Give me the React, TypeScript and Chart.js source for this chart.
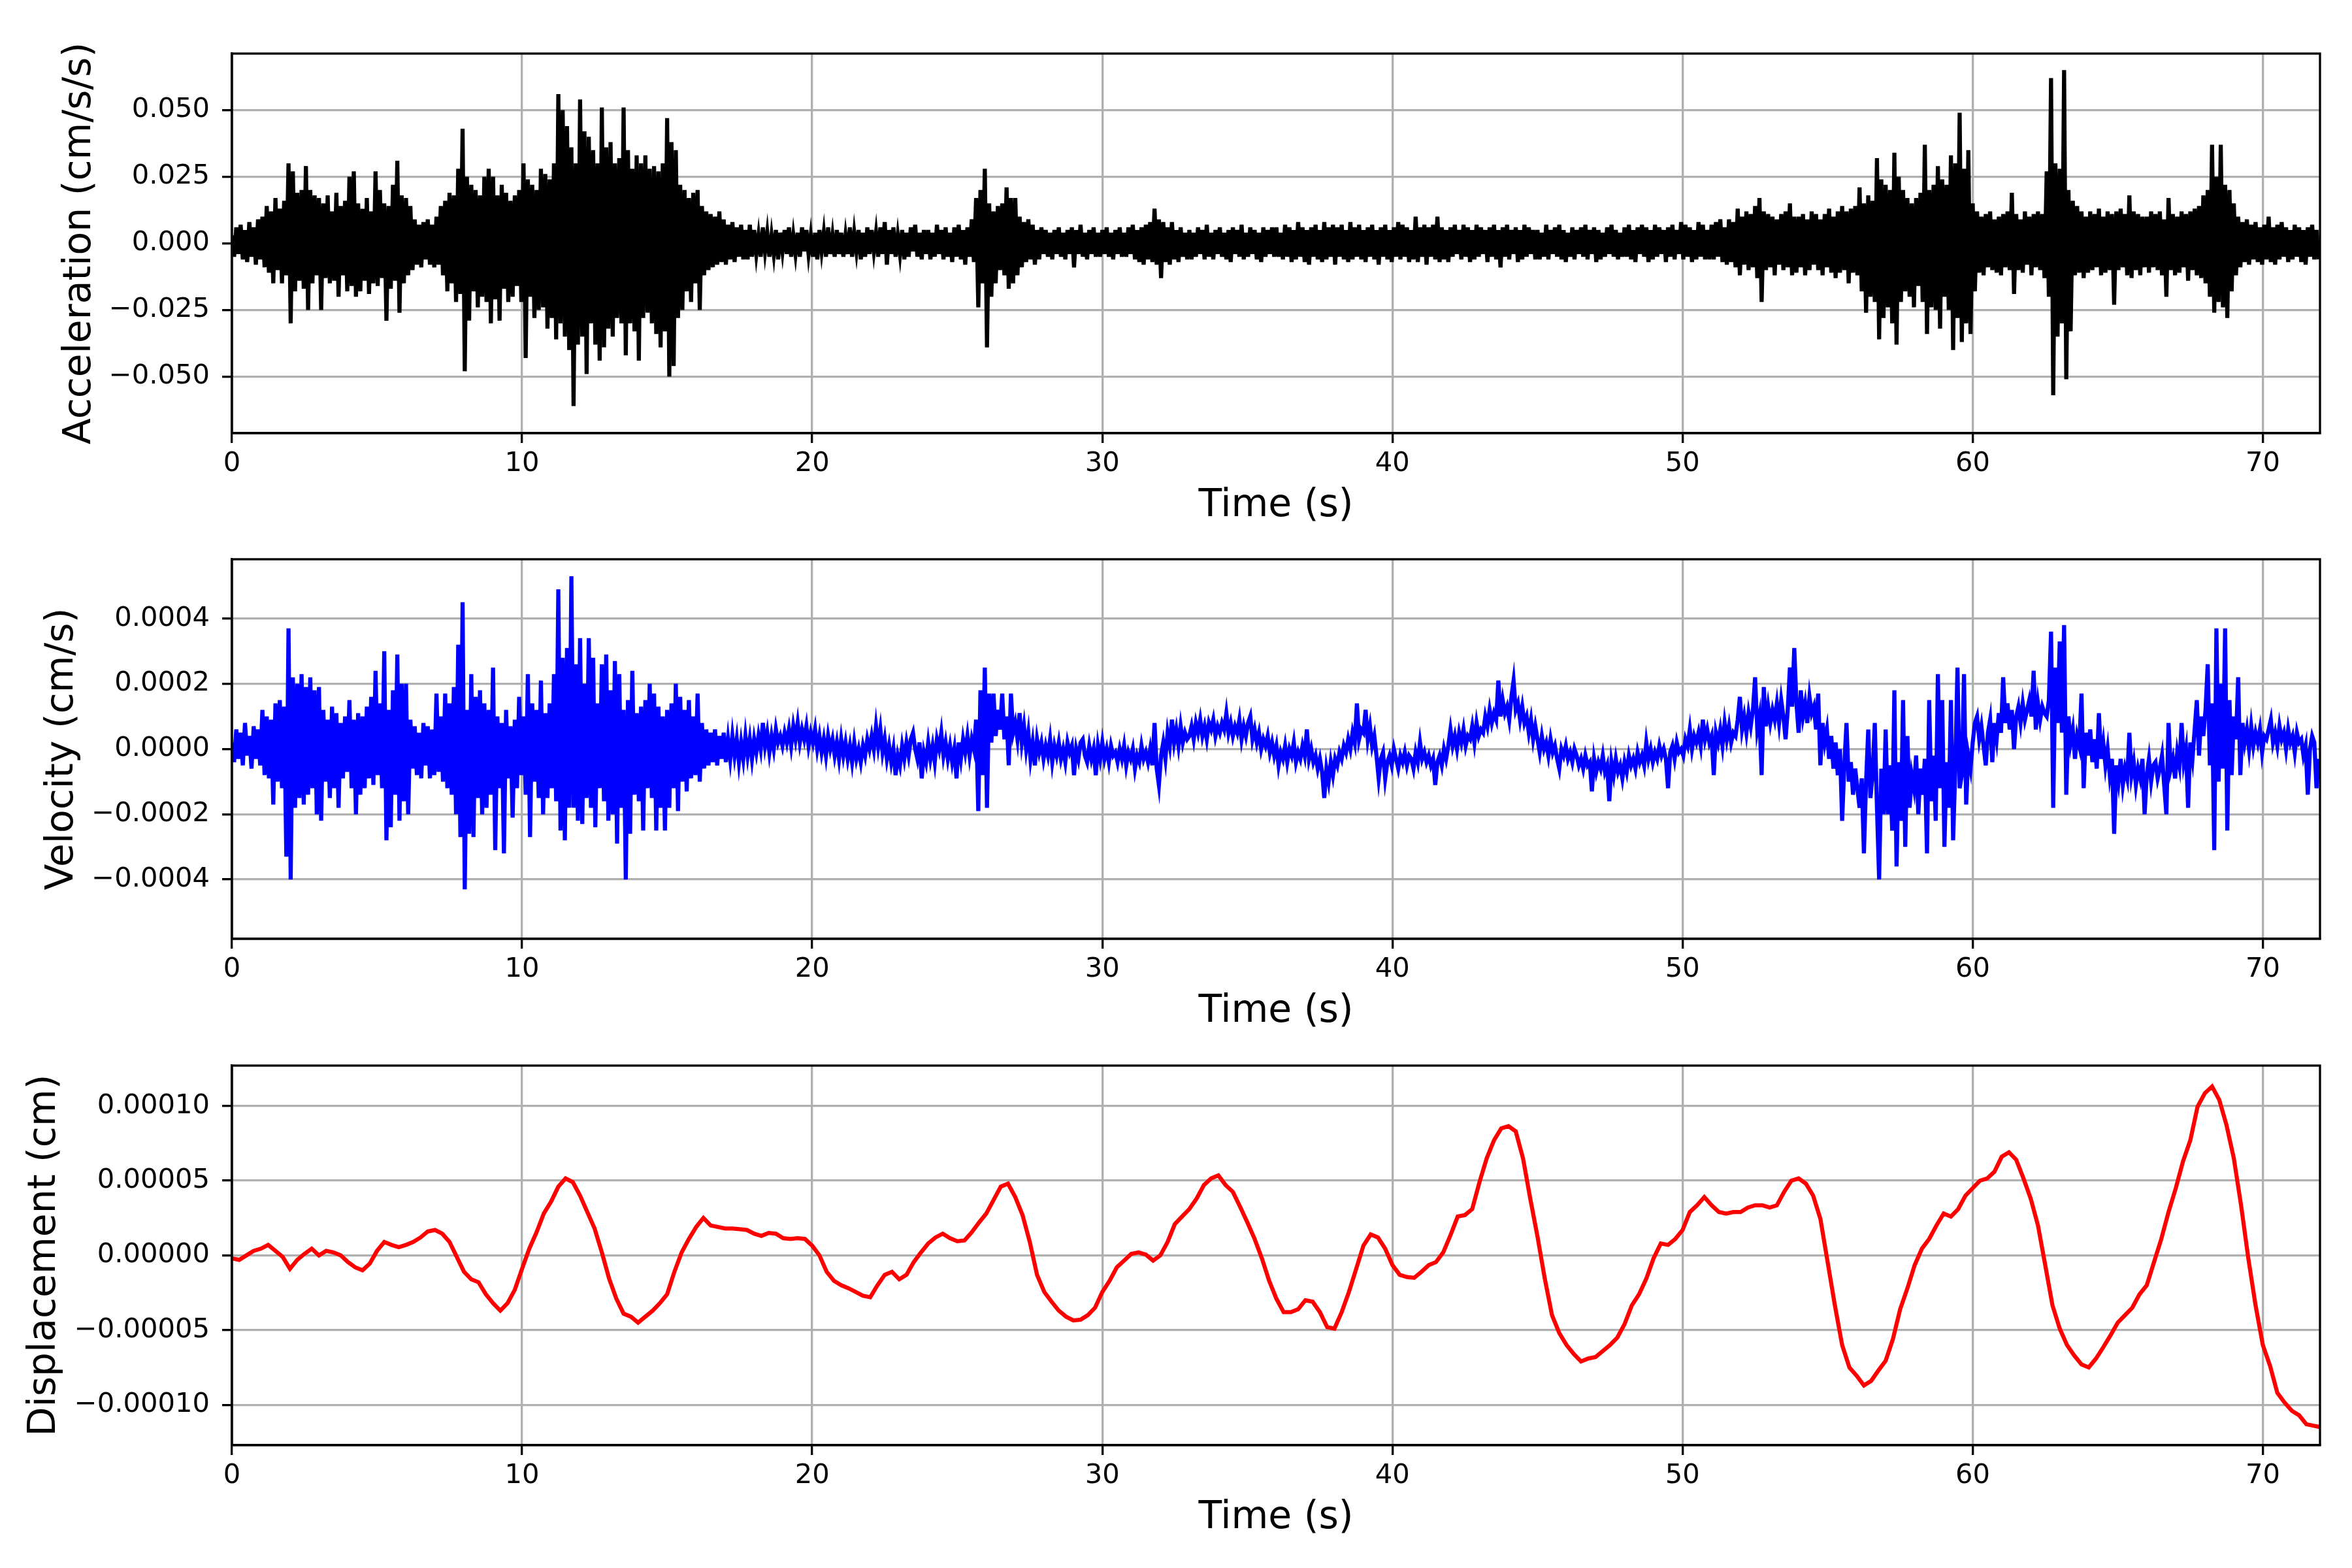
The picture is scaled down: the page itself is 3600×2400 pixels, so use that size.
import React, { useEffect, useRef } from 'react';
import { Chart, registerables } from 'chart.js';

Chart.register(...registerables);
Chart.defaults.font.family = "'DejaVu Sans', sans-serif";

// sample spacing (s) of the two noisy traces and of the displacement trace
const NOISY_DT = 0.075;
const DISP_DT = 0.25;

// acceleration, in 1e-3 cm/s/s, one row = 3 s
const ACCEL = [
  3, -5, 6, -4, 7, -6, 5, -7, 8, -5, 6, -8, 9, -6, 10, -9, 14, -11, 12, -15, 17, -10, 13, -15, 16, -12, 30, -30, 27, -18, 19, -14, 20, -17, 29, -25, 20, -15, 18, -12,
  17, -25, 15, -13, 18, -15, 12, -14, 19, -20, 14, -12, 16, -18, 25, -16, 27, -20, 15, -18, 13, -14, 17, -19, 12, -15, 27, -16, 20, -13, 15, -29, 14, -17, 22, -14, 31, -26, 18, -15,
  17, -12, 14, -10, 9, -8, 7, -9, 8, -6, 9, -8, 7, -9, 10, -8, 14, -12, 16, -18, 19, -15, 18, -22, 28, -19, 43, -48, 25, -29, 22, -18, 20, -24, 18, -20, 25, -22, 28, -30,
  25, -21, 18, -29, 22, -17, 19, -22, 16, -20, 18, -16, 20, -22, 30, -43, 24, -20, 22, -28, 20, -25, 28, -24, 26, -32, 24, -28, 30, -36, 56, -30, 50, -35, 44, -40, 36, -61, 30, -38,
  54, -35, 42, -49, 40, -30, 35, -38, 30, -44, 51, -39, 36, -32, 38, -35, 30, -28, 32, -30, 51, -42, 35, -30, 28, -33, 33, -44, 30, -28, 33, -26, 28, -30, 29, -34, 27, -39, 30, -33,
  47, -50, 38, -46, 35, -28, 22, -25, 20, -18, 17, -22, 19, -15, 20, -25, 14, -12, 12, -10, 11, -9, 10, -8, 12, -7, 9, -8, 7, -6, 8, -7, 6, -5, 7, -6, 5, -6, 7, -5,
  5, -4, 3, -5, 6, -3, 4, -5, 3, -4, 5, -6, 4, -3, 5, -4, 6, -5, 3, -4, 4, -5, 6, -3, 5, -4, 3, -5, 4, -6, 5, -3, 4, -5, 6, -4, 3, -5, 5, -4,
  4, -5, 3, -4, 6, -5, 4, -3, 5, -6, 4, -5, 6, -4, 5, -3, 4, -5, 6, -4, 8, -8, 5, -4, 6, -5, 3, -4, 5, -6, 4, -5, 6, -3, 7, -5, 4, -6, 5, -4,
  5, -6, 4, -5, 7, -4, 5, -6, 6, -5, 4, -7, 6, -5, 7, -6, 5, -8, 6, -5, 9, -7, 17, -24, 20, -15, 28, -39, 15, -20, 12, -15, 14, -10, 15, -12, 21, -17, 17, -15,
  17, -12, 10, -9, 8, -7, 9, -6, 7, -8, 5, -6, 6, -4, 5, -5, 4, -6, 5, -4, 6, -5, 4, -6, 5, -4, 6, -9, 5, -4, 7, -5, 4, -6, 5, -4, 6, -5, 4, -5,
  5, -4, 6, -5, 4, -6, 5, -4, 6, -5, 4, -5, 6, -4, 7, -6, 5, -7, 6, -8, 7, -6, 8, -7, 13, -8, 9, -13, 8, -7, 6, -8, 8, -6, 5, -7, 6, -5, 4, -6,
  5, -6, 4, -5, 6, -4, 5, -6, 7, -5, 4, -6, 5, -4, 6, -5, 4, -6, 5, -7, 6, -4, 5, -5, 7, -6, 4, -5, 6, -4, 5, -6, 4, -7, 6, -5, 5, -4, 6, -5,
  6, -5, 4, -6, 7, -5, 6, -7, 5, -6, 8, -5, 6, -7, 5, -8, 6, -5, 7, -6, 5, -7, 8, -6, 6, -5, 7, -8, 6, -5, 7, -6, 5, -7, 8, -6, 6, -5, 7, -6,
  5, -7, 6, -5, 7, -6, 5, -8, 6, -5, 7, -6, 5, -7, 6, -5, 8, -6, 7, -5, 6, -7, 5, -6, 10, -7, 6, -5, 7, -8, 6, -5, 7, -6, 10, -7, 6, -6, 5, -7,
  6, -5, 7, -4, 5, -6, 7, -5, 6, -7, 5, -6, 7, -5, 6, -4, 5, -7, 6, -5, 7, -6, 5, -9, 6, -5, 7, -6, 5, -4, 6, -7, 5, -6, 7, -5, 6, -4, 5, -6,
  5, -6, 4, -5, 7, -6, 5, -4, 6, -5, 7, -6, 5, -7, 4, -5, 6, -6, 5, -4, 6, -5, 7, -6, 5, -4, 6, -7, 5, -6, 4, -5, 6, -4, 7, -5, 5, -6, 4, -5,
  6, -5, 7, -6, 5, -7, 6, -4, 7, -5, 6, -7, 5, -6, 7, -5, 6, -4, 5, -7, 6, -5, 7, -6, 5, -4, 8, -6, 7, -5, 6, -7, 5, -6, 8, -5, 7, -6, 5, -6,
  7, -6, 8, -5, 9, -7, 6, -8, 9, -7, 8, -9, 13, -12, 10, -8, 12, -10, 11, -9, 14, -13, 17, -22, 12, -10, 11, -9, 10, -12, 9, -8, 11, -10, 12, -9, 15, -12, 10, -11,
  10, -9, 11, -12, 9, -10, 12, -8, 11, -10, 9, -12, 11, -9, 13, -11, 10, -13, 12, -11, 14, -10, 12, -15, 13, -11, 14, -12, 21, -18, 15, -26, 18, -20, 16, -22, 32, -36, 24, -28,
  22, -24, 20, -30, 34, -38, 25, -22, 20, -18, 17, -20, 15, -24, 17, -16, 19, -22, 37, -34, 20, -24, 22, -25, 29, -32, 24, -20, 22, -25, 33, -40, 30, -28, 49, -37, 28, -30, 35, -34,
  15, -18, 12, -11, 10, -12, 11, -9, 12, -10, 9, -11, 10, -12, 11, -9, 12, -10, 19, -19, 11, -10, 9, -11, 12, -8, 10, -12, 11, -9, 12, -10, 11, -13, 27, -20, 62, -57, 30, -35,
  28, -30, 65, -51, 20, -33, 16, -12, 14, -11, 12, -13, 10, -11, 12, -10, 11, -9, 13, -12, 10, -11, 12, -10, 11, -23, 12, -10, 13, -9, 11, -12, 18, -13, 12, -10, 11, -12, 10, -9,
  10, -11, 12, -9, 11, -10, 12, -12, 9, -20, 17, -10, 11, -12, 10, -11, 12, -9, 11, -14, 12, -10, 13, -12, 14, -13, 18, -15, 20, -20, 37, -26, 25, -22, 37, -24, 22, -28, 20, -18,
  15, -12, 10, -9, 8, -7, 9, -8, 7, -6, 8, -7, 6, -8, 7, -6, 10, -7, 6, -8, 7, -6, 8, -5, 6, -7, 5, -6, 7, -5, 6, -7, 5, -8, 6, -5, 7, -6, 5, -6,
];

// velocity, in 1e-5 cm/s, one row = 3 s
const VELOCITY = [
  2, -4, 6, -3, 5, -5, 8, -2, 4, -6, 7, -3, 6, -5, 12, -8, 10, -9, 9, -17, 14, -10, 15, -12, 13, -33, 37, -40, 22, -18, 20, -15, 23, -17, 19, -14, 22, -12, 18, -20,
  19, -22, 12, -10, 9, -15, 13, -12, 11, -18, 8, -9, 10, -7, 15, -12, 9, -20, 11, -14, 10, -12, 13, -9, 16, -11, 24, -8, 14, -12, 30, -28, 12, -24, 18, -14, 29, -22, 20, -16,
  20, -20, 9, -6, 7, -8, 5, -9, 8, -5, 7, -9, 6, -8, 17, -7, 10, -10, 17, -12, 14, -14, 19, -20, 32, -27, 45, -43, 12, -26, 23, -27, 16, -15, 18, -20, 14, -18, 12, -14,
  25, -31, 10, -12, 8, -32, 12, -9, 7, -21, 9, -12, 16, -8, 10, -14, 23, -27, 14, -10, 12, -15, 21, -20, 11, -15, 14, -12, 23, -16, 49, -25, 28, -28, 31, -18, 53, -18, 26, -22,
  34, -23, 20, -15, 34, -18, 28, -24, 14, -12, 26, -16, 29, -22, 18, -20, 27, -29, 23, -18, 12, -40, 15, -26, 24, -14, 11, -16, 13, -25, 15, -12, 20, -15, 17, -25, 13, -18, 10, -25,
  12, -18, 14, -12, 20, -19, 16, -10, 12, -13, 15, -9, 10, -8, 17, -10, 8, -6, 6, -5, 5, -4, 6, -5, 4, -3, 5, -4, 3, -3, 4, -2, 3, -4, 2, -3, 4, -2, 3, -3,
  3, -1, 4, 0, 8, 1, 5, -1, 4, 0, 6, 2, 4, 1, 5, 2, 6, 1, 7, 3, 8, 2, 6, 3, 7, 1, 5, 2, 6, 0, 4, -1, 3, -2, 4, 0, 3, -2, 2, -3,
  3, -2, 2, -3, 1, -4, 2, -3, 0, -4, 1, -2, 3, 0, 4, 0, 7, 1, 6, -1, 3, -3, 1, -4, 0, -8, -2, -5, 1, -3, 2, -2, 3, 5, 0, -3, 2, -9, -1, -4,
  2, -3, 1, -4, 3, 0, 5, -2, 2, -3, 1, -4, 0, -9, 2, -3, 3, -1, 4, -2, 3, 0, 9, -19, 18, -8, 25, -18, 17, 2, 17, 4, 12, 6, 17, 3, 10, -5, 17, 5,
  8, 3, 11, 2, 7, 0, 5, -3, 2, -5, 3, -1, 2, -3, 1, -2, 3, -4, 1, -2, 2, -3, 0, -4, 2, -1, 1, -8, 0, -3, 2, 3, -2, -4, 1, -3, 0, -8, 1, -3,
  2, -3, 0, -4, 1, -2, -1, -4, 0, -3, 1, -5, -1, -3, 0, -6, -2, -4, 1, -3, -1, -4, 0, -5, 8, -6, -11, -2, 2, -3, 5, 1, 9, 2, 6, 1, 7, 2, 5, 3,
  4, 7, 3, 8, 5, 9, 4, 7, 3, 8, 6, 9, 4, 7, 5, 8, 6, 11, 5, 8, 4, 7, 5, 9, 3, 7, 4, 8, 10, 3, 6, 2, 5, 0, 3, 1, 4, -1, 2, -2,
  1, -5, -1, -3, 1, -4, 0, -2, 2, -4, -1, -3, 1, -2, 6, -3, 0, -4, -2, -6, -3, -7, -15, -6, -10, -4, -8, -3, -5, -1, -3, 1, -1, 3, 0, 5, 2, 14, 3, 6,
  5, 12, 3, 7, 1, 4, -2, -9, -3, -1, -9, -4, -2, -5, 0, -3, -6, -2, -4, -1, -5, -2, -3, -6, -1, -4, 2, -3, -1, -4, -2, -5, -3, -11, -4, -2, -5, 0, -3, 1,
  6, 1, 4, 0, 5, 2, 6, 1, 4, 3, 7, 2, 8, 4, 6, 5, 10, 7, 12, 8, 11, 9, 21, 10, 15, 11, 13, 9, 16, 21, 12, 14, 9, 13, 8, 10, 5, 9, 3, 7,
  3, -1, 4, 0, 2, -2, 3, -1, 1, -3, -6, 0, -2, 1, -3, -1, -4, 0, -2, -5, -3, -6, -2, -5, -4, -13, -3, -7, -4, -6, -2, -7, -5, -16, -4, -8, -3, -7, -5, -9,
  -4, -7, -2, -5, -3, -6, -1, -4, -2, -5, 2, -3, 0, -4, -1, -3, 1, -2, 0, -3, -12, -1, 1, -3, 2, -1, 0, -2, 3, 1, 6, 0, 4, 2, 5, 1, 9, 3, 6, 2,
  4, -8, 5, 2, 6, 1, 8, 3, 7, 2, 5, 4, 9, 16, 6, 10, 5, 11, 7, 12, 22, 6, 10, -8, 19, 7, 13, 8, 12, 9, 14, 8, 15, 10, 3, 12, 25, 13, 31, 14,
  5, 18, 10, 14, 8, 16, 11, 13, 6, 17, -5, 8, 2, 6, -3, 4, -6, 2, -8, 0, -22, -5, 8, -10, -4, -14, -6, -12, -18, -9, -32, -10, 6, -15, -8, 8, -18, -40, -6, -20,
  6, -20, -5, -25, 18, -36, -4, -22, 15, -30, 4, -18, -8, -12, -2, -20, -6, -14, -3, -32, 15, -16, -2, -22, 23, -12, 15, -30, -4, -18, 15, -28, -6, 25, -12, -8, 23, -17, -2, -6,
  2, 8, 10, 3, 7, 1, -5, 5, 9, -4, 8, 3, 11, 5, 22, 8, 14, 6, 12, 0, 10, 13, 8, 14, 9, 12, 15, 10, 24, 6, 14, 9, 13, 11, 10, 15, 36, -18, 25, 8,
  33, 5, 38, -14, 10, 2, 6, -3, 4, 1, 17, -12, 5, -2, 6, -4, 3, -6, 11, -3, 2, -5, 0, -8, -3, -26, -5, -10, -3, -11, -6, -9, 5, -8, -4, -11, -6, -9, -3, -20,
  -8, -3, -10, -5, -4, -9, -6, -2, -11, -20, 8, -6, -3, -9, -1, -5, 8, -4, 0, -18, 2, -3, 6, 15, -2, 10, 4, 12, 26, -5, 14, -31, 37, -10, 20, -6, 37, -25, 15, -8,
  10, 3, 22, -8, 8, 2, 6, 0, 7, 1, 5, 2, 6, -1, 4, 3, 6, 9, 2, 5, 1, 7, 3, 5, 0, 6, 2, 4, -1, 5, 2, 3, -2, 1, -14, 0, 4, 2, -12, -3,
];

// displacement, in 1e-6 cm, one row = 3 s
const DISPLACEMENT = [
  -2, -3, 0, 3, 4.5, 7, 3, -1, -9, -3, 1, 4.5,
  0, 3, 2, 0, -4.5, -8, -10, -5.5, 3, 9, 7, 5.5,
  7, 9, 12, 16, 17, 14.5, 9, -1, -11, -16, -18, -26,
  -32, -37, -32, -23, -9, 4.5, 15.5, 28, 36, 46, 51.5, 49,
  40, 29, 18, 2, -15.5, -29, -39, -41, -45, -41, -37, -32,
  -26, -11, 2, 11, 19, 25, 20, 19, 18, 18, 17.5, 17,
  14.5, 13, 15, 14.5, 11.5, 11, 11.5, 11, 6.5, 0, -11, -17,
  -20, -22, -24.5, -27, -28, -20, -13, -11, -16, -13, -4.5, 2,
  8, 12, 14.5, 11.5, 9.5, 10, 15.5, 22, 28, 37, 46, 48,
  39, 27, 9, -13, -24.5, -31, -37, -41, -43.5, -43, -40, -35,
  -24.5, -17, -8, -3.5, 1, 2, 0.5, -3.5, 0, 9, 21, 26,
  31, 38, 47, 51.5, 53.5, 47, 42.5, 32.5, 22, 11, -2, -17,
  -29, -38, -38, -36, -30, -31, -38, -48, -49, -38, -24.5, -9,
  6.5, 14, 12, 4.5, -6.5, -13, -14.5, -15, -11, -6.5, -4.5, 2,
  13.5, 26, 27, 31, 49, 65, 77, 85, 86.5, 83, 65, 38,
  12.5, -15.5, -40, -52, -60, -66, -71, -69, -68, -64, -60, -55,
  -46, -33.5, -26, -15.5, -2, 8, 7, 11, 17, 29, 33.5, 39,
  33.5, 29, 28, 29, 29, 32, 33.5, 33.5, 32, 33.5, 42.5, 50,
  51.5, 48, 40, 24.5, -4.5, -33.5, -60, -75, -80.5, -87, -84, -77,
  -70.5, -56, -36, -22, -6.5, 4.5, 11, 20, 28, 26, 31, 40,
  45, 50, 51.5, 56, 66, 69, 64, 51.5, 38, 20, -6.5, -33.5,
  -49, -60, -67, -73, -75, -69, -61.5, -53.5, -45, -40, -35, -26,
  -20, -4.5, 11, 29, 45, 63, 77, 99.5, 108.5, 113, 104, 87,
  65, 33.5, -2, -33.5, -60, -74, -92, -98.5, -104, -107, -113, -114,
  -115,
];

const TIME_TICKS = [0, 10, 20, 30, 40, 50, 60, 70];
const ACCEL_TICKS = [-0.05, -0.025, 0, 0.025, 0.05];
const VELOCITY_TICKS = [-0.0004, -0.0002, 0, 0.0002, 0.0004];
const DISP_TICKS = [-0.0001, -0.00005, 0, 0.00005, 0.0001];

const T_MAX = 71.97;
const PLOT_LEFT = 355;
const CANVAS_W = 3600;
const CANVAS_H = 820;
const LINE_W = 3.33;

// top and right spines, matplotlib style box
const framePlugin = {
  id: 'frame',
  afterDraw(chart: any) {
    const { ctx, chartArea } = chart;
    ctx.save();
    ctx.strokeStyle = '#000';
    ctx.lineWidth = LINE_W;
    ctx.strokeRect(chartArea.left, chartArea.top, chartArea.right - chartArea.left, chartArea.bottom - chartArea.top);
    ctx.restore();
  },
};

const fmt = (v: number, digits: number) => {
  if (Math.abs(v) < 1e-12) return (0).toFixed(digits);
  return v.toFixed(digits).replace('-', '\u2212');
};

interface PanelProps {
  values: number[];
  dt: number;
  unit: number;
  color: string;
  label: string;
  ticks: number[];
  digits: number;
  yLimit: number;
  top: number;
  labelLeft: number;
}

const Panel: React.FC<PanelProps> = ({ values, dt, unit, color, label, ticks, digits, yLimit, top, labelLeft }) => {
  const canvasRef = useRef<HTMLCanvasElement | null>(null);

  useEffect(() => {
    const ctx = canvasRef.current?.getContext('2d');
    if (!ctx) return;
    const points = values.map((v, i) => ({ x: i * dt, y: v * unit }));

    const chart = new Chart(ctx, {
      type: 'line',
      data: {
        datasets: [
          {
            data: points,
            borderColor: color,
            borderWidth: 6.25,
            pointRadius: 0,
            tension: 0,
            fill: false,
            clip: 0,
          },
        ],
      },
      options: {
        animation: false,
        responsive: false,
        devicePixelRatio: 1,
        layout: { padding: { top: 82, right: CANVAS_W - 3551, bottom: 6, left: labelLeft } },
        plugins: { legend: { display: false }, tooltip: { enabled: false } },
        scales: {
          x: {
            type: 'linear',
            min: 0,
            max: T_MAX,
            afterBuildTicks: (scale: any) => {
              scale.ticks = TIME_TICKS.map((value) => ({ value }));
            },
            afterFit: (scale: any) => {
              scale.height = 151;
            },
            ticks: {
              color: '#000',
              font: { size: 41.67 },
              padding: 7,
              maxRotation: 0,
              autoSkip: false,
              callback: (v: any) => String(v),
            },
            grid: { color: '#b0b0b0', lineWidth: LINE_W, tickColor: '#000', tickLength: 15, tickWidth: LINE_W },
            border: { color: '#000', width: LINE_W },
            title: {
              display: true,
              text: 'Time (s)',
              color: '#000',
              font: { size: 58.33 },
              padding: { top: 4, bottom: 4 },
            },
          },
          y: {
            type: 'linear',
            min: -yLimit,
            max: yLimit,
            afterBuildTicks: (scale: any) => {
              scale.ticks = ticks.map((value) => ({ value }));
            },
            afterFit: (scale: any) => {
              scale.width = PLOT_LEFT - labelLeft;
            },
            ticks: {
              color: '#000',
              font: { size: 41.67 },
              padding: 19,
              autoSkip: false,
              callback: (v: any) => fmt(Number(v), digits),
            },
            grid: { color: '#b0b0b0', lineWidth: LINE_W, tickColor: '#000', tickLength: 15, tickWidth: LINE_W },
            border: { color: '#000', width: LINE_W },
            title: {
              display: true,
              text: label,
              color: '#000',
              font: { size: 58.33 },
              padding: { top: 4, bottom: 4 },
            },
          },
        },
      },
      plugins: [framePlugin],
    } as any);

    return () => {
      chart.destroy();
    };
  }, [values, dt, unit, color, label, ticks, digits, yLimit, labelLeft]);

  return (
    <canvas
      ref={canvasRef}
      width={CANVAS_W}
      height={CANVAS_H}
      style={{ position: 'absolute', left: 0, top, width: CANVAS_W, height: CANVAS_H, display: 'block' }}
    />
  );
};

const App: React.FC = () => {
  return (
    <div style={{ position: 'absolute', left: 0, top: 0, width: 3600, height: 2400, background: '#fff', overflow: 'hidden' }}>
      <Panel
        values={ACCEL}
        dt={NOISY_DT}
        unit={1e-3}
        color="#000000"
        label="Acceleration (cm/s/s)"
        ticks={ACCEL_TICKS}
        digits={3}
        yLimit={0.0712}
        top={0}
        labelLeft={84}
      />
      <Panel
        values={VELOCITY}
        dt={NOISY_DT}
        unit={1e-5}
        color="#0000ff"
        label="Velocity (cm/s)"
        ticks={VELOCITY_TICKS}
        digits={4}
        yLimit={0.000582}
        top={774}
        labelLeft={57}
      />
      <Panel
        values={DISPLACEMENT}
        dt={DISP_DT}
        unit={1e-6}
        color="#ff0000"
        label="Displacement (cm)"
        ticks={DISP_TICKS}
        digits={5}
        yLimit={0.000127}
        top={1549}
        labelLeft={30}
      />
    </div>
  );
};

export default App;
